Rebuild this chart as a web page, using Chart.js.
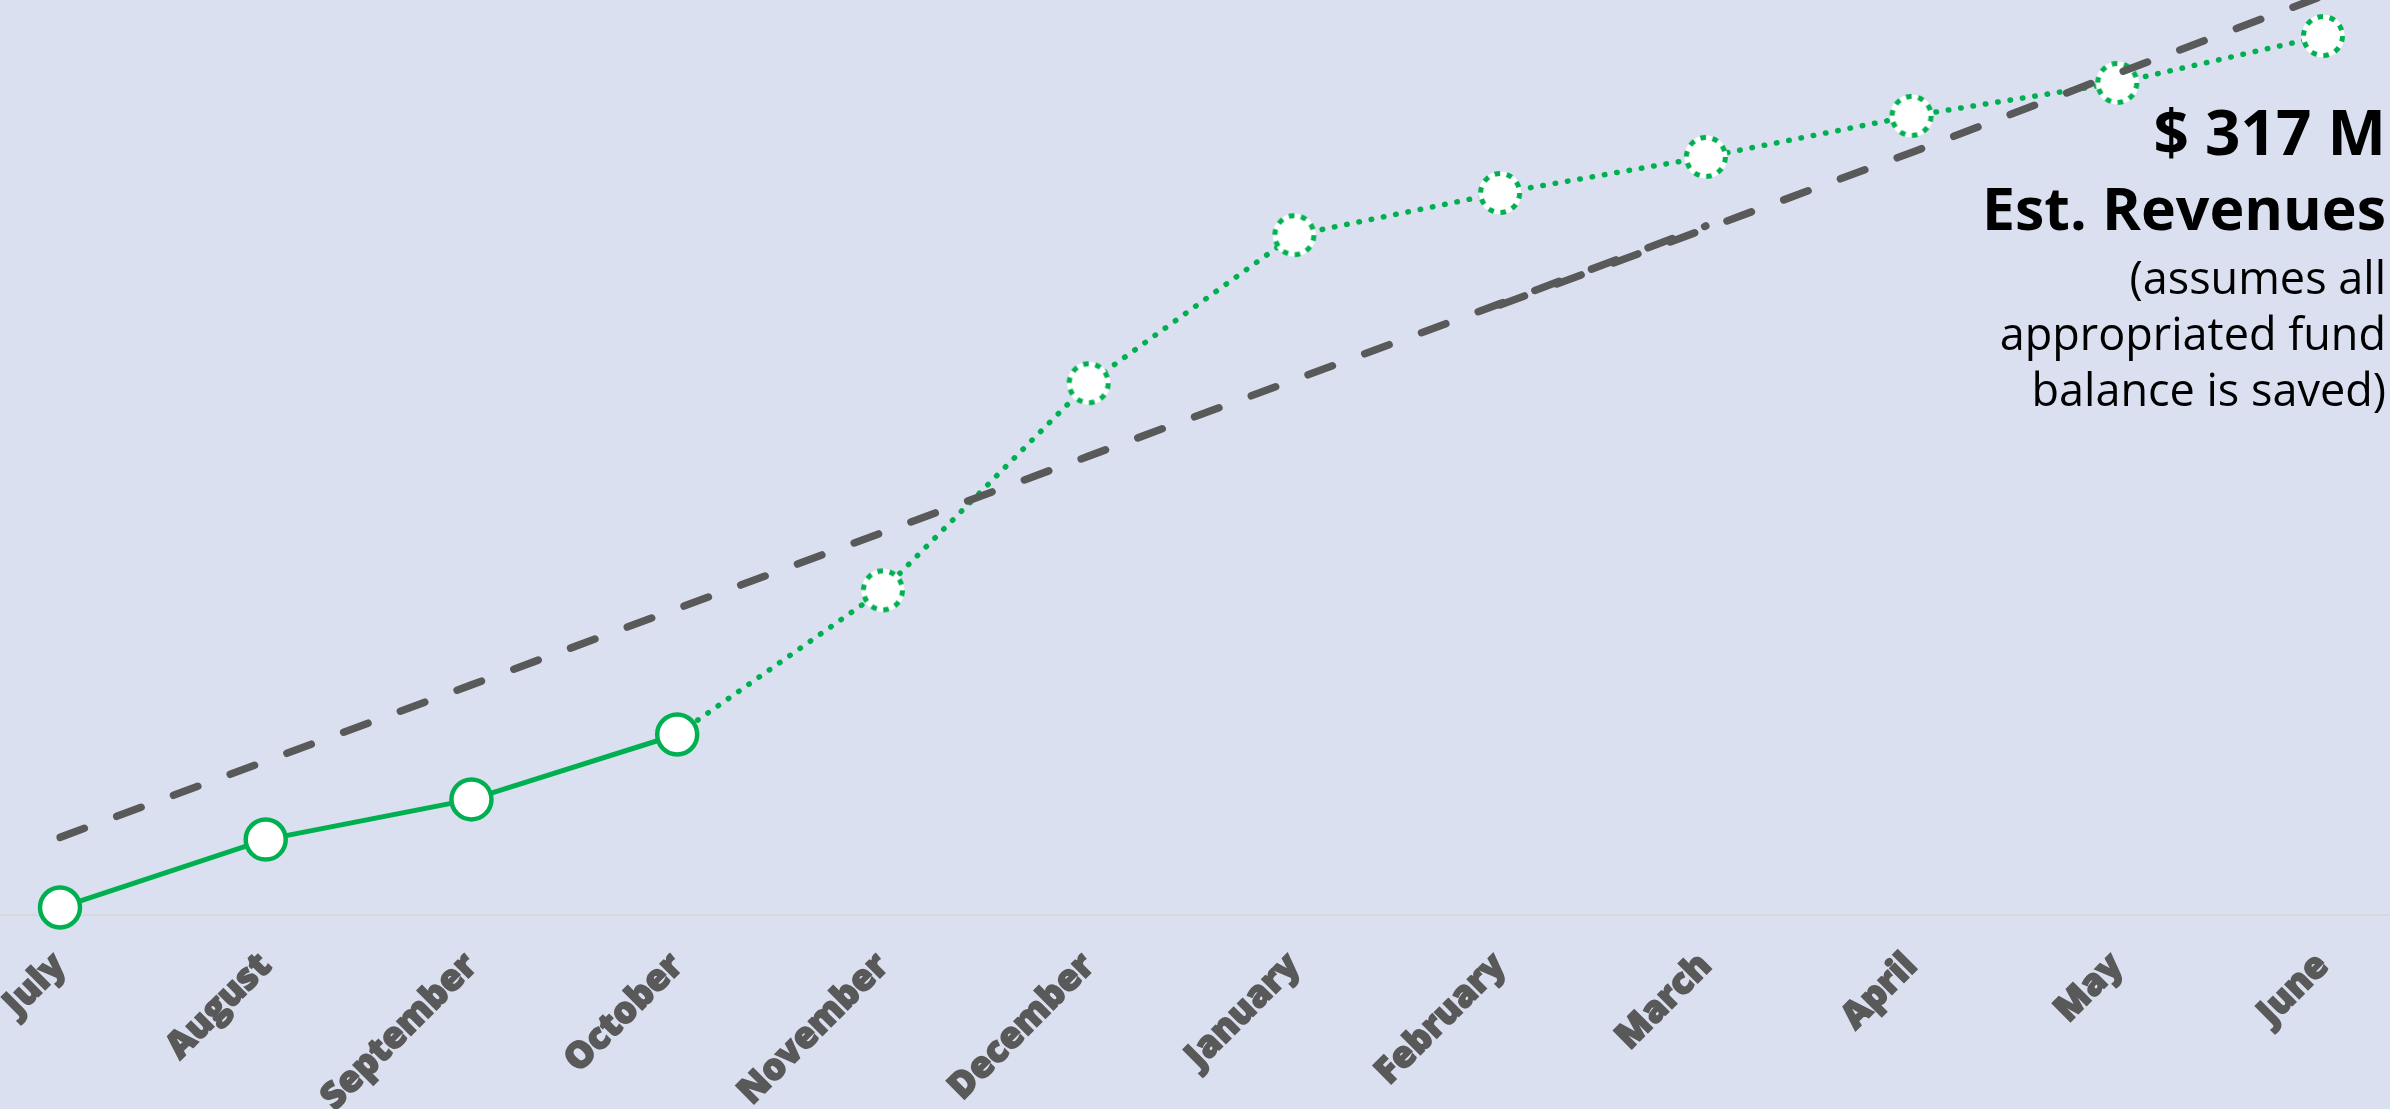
<!DOCTYPE html>
<html>
<head>
<meta charset="utf-8">
<title>Cumulative General Fund Revenues</title>
<script src="https://cdn.jsdelivr.net/npm/chart.js@4.4.1/dist/chart.umd.min.js"></script>
<style>
  html, body { margin: 0; padding: 0; background: #DAE0F0; overflow: hidden; }
  #wrap { position: relative; width: 2390px; height: 1109px; }
</style>
</head>
<body>
<div id="wrap"><canvas id="revenueChart"></canvas></div>
<script>
// Fiscal-year months
const months = ['July', 'August', 'September', 'October', 'November', 'December',
                'January', 'February', 'March', 'April', 'May', 'June'];

// Cumulative revenues received to date ($ millions), July - October
const actualRevenue = [2.7, 27.2, 41.7, 65.1];

// Projected cumulative revenues ($ millions), October - June
const projectedRevenue = [65.1, 117.1, 191.8, 245.2, 260.4, 273.4, 288.2, 300.1, 317];

// Budgeted cumulative revenues ($ millions): first leg July - March, second leg February - June
const budgetFirstLeg = [28, 55.5, 83, 110.5, 138, 165.5, 193, 220.5, 248.5];
const budgetSecondLeg = [220, 247.5, 275, 303.5, 331.5];

// Y-axis range ($ millions)
const yMin = 0;
const yMax = 330;

// Summary note shown at the upper right
const noteAmount = '$ 317 M';
const noteTitle = 'Est. Revenues';
const noteLines = ['(assumes all', 'appropriated fund', 'balance is saved)'];

const GREEN = '#00B050';
const GREY = '#595959';

// Pad a partial series onto the full month axis
function place(values, startIndex) {
  const out = new Array(months.length).fill(null);
  values.forEach((v, i) => { out[startIndex + i] = v; });
  return out;
}

// White marker with a dotted green ring, used for projected months
function dottedMarker() {
  const c = document.createElement('canvas');
  c.width = 52; c.height = 52;
  const g = c.getContext('2d');
  g.beginPath();
  g.arc(26, 26, 21.5, 0, Math.PI * 2);
  g.fillStyle = '#FFFFFF';
  g.fill();
  g.beginPath();
  g.arc(26, 26, 19.5, 0, Math.PI * 2);
  g.setLineDash([5.6, 6.65]);
  g.lineWidth = 5;
  g.strokeStyle = GREEN;
  g.stroke();
  return c;
}
const projMarker = dottedMarker();

// Light rule along the zero line, across the whole width
const zeroLine = {
  id: 'zeroLine',
  beforeDatasetsDraw(chart) {
    const y = chart.scales.y.getPixelForValue(0);
    const ctx = chart.ctx;
    ctx.save();
    ctx.strokeStyle = '#D6D8DE';
    ctx.lineWidth = 2;
    ctx.beginPath();
    ctx.moveTo(0, y);
    ctx.lineTo(chart.width, y);
    ctx.stroke();
    ctx.restore();
  }
};

// Right-aligned summary note
const summaryNote = {
  id: 'summaryNote',
  afterDatasetsDraw(chart) {
    const ctx = chart.ctx;
    const right = chart.width - 4;
    ctx.save();
    ctx.textAlign = 'right';
    ctx.textBaseline = 'alphabetic';
    ctx.fillStyle = '#000000';
    ctx.font = 'bold 62px "Open Sans"';
    ctx.fillText(noteAmount, right, 155);
    ctx.font = 'bold 59px "Open Sans"';
    ctx.fillText(noteTitle, right, 230);
    ctx.font = '45px "Open Sans"';
    noteLines.forEach((t, i) => ctx.fillText(t, right, 294 + i * 56));
    ctx.restore();
  }
};

new Chart(document.getElementById('revenueChart'), {
  type: 'line',
  data: {
    labels: months,
    datasets: [
      {
        label: 'Budget',
        data: place(budgetFirstLeg, 0),
        borderColor: GREY,
        borderWidth: 7.5,
        borderDash: [26, 34.5],
        borderCapStyle: 'round',
        pointRadius: 0,
        spanGaps: false,
        order: 0
      },
      {
        label: 'Budget (cont.)',
        data: place(budgetSecondLeg, 7),
        borderColor: GREY,
        borderWidth: 7.5,
        borderDash: [26, 34.5],
        borderCapStyle: 'round',
        pointRadius: 0,
        spanGaps: false,
        order: 1
      },
      {
        label: 'Actual',
        data: place(actualRevenue, 0),
        borderColor: GREEN,
        borderWidth: 5,
        pointRadius: 20,
        pointBorderWidth: 4.5,
        pointBackgroundColor: '#FFFFFF',
        pointBorderColor: GREEN,
        spanGaps: false,
        clip: false,
        order: 2
      },
      {
        label: 'Projected',
        data: place(projectedRevenue, 3),
        borderColor: GREEN,
        borderWidth: 5.5,
        borderDash: [0.5, 12],
        borderCapStyle: 'round',
        pointStyle: projMarker,
        pointRadius: months.map((m, i) => (i <= 3 ? 0 : 20)),
        spanGaps: false,
        clip: false,
        order: 3
      }
    ]
  },
  options: {
    responsive: true,
    maintainAspectRatio: false,
    animation: false,
    layout: { autoPadding: false, padding: { left: 60, right: 67, top: 0, bottom: 0 } },
    plugins: {
      legend: { display: false },
      tooltip: { enabled: false }
    },
    scales: {
      x: {
        grid: { display: false, drawTicks: false },
        border: { display: false },
        ticks: {
          autoSkip: false,
          minRotation: 45,
          maxRotation: 45,
          padding: 30,
          color: GREY,
          textStrokeColor: GREY,
          textStrokeWidth: 1.6,
          font: { family: '"Open Sans"', size: 36, weight: 800 }
        },
        afterFit(scale) {
          scale.height = 194;
          scale.paddingLeft = 0;
          scale.paddingRight = 0;
        }
      },
      y: {
        display: false,
        min: yMin,
        max: yMax
      }
    }
  },
  plugins: [zeroLine, summaryNote]
});
</script>
</body>
</html>
